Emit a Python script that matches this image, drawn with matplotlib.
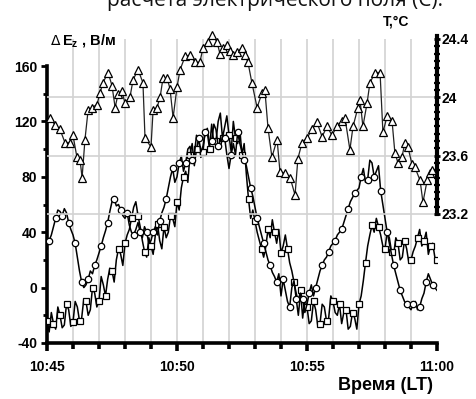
import numpy as np
import matplotlib
matplotlib.use("Agg")
import matplotlib.pyplot as plt
from matplotlib.ticker import MultipleLocator, FixedLocator

plt.rcParams['font.family'] = ['Liberation Sans', 'DejaVu Sans']

# ---- data (time in minutes after 10:45) ----
e_times = np.arange(181) / 12.0  # 5-second sampling

e_circles = [30, 34, 38, 44, 50, 56, 55, 52, 57, 54, 47, 42, 38, 32, 22, 12, 4, 0, 2, 6,
             12, 10, 16, 20, 25, 30, 36, 41, 47, 55, 62, 64, 59, 60, 56, 52, 50, 54, 45, 40,
             38, 42, 47, 40, 36, 44, 40, 32, 34, 40, 44, 38, 48, 54, 58, 64, 72, 80, 86, 76,
             80, 90, 95, 84, 90, 100, 102, 92, 96, 110, 108, 98, 102, 112, 115, 104, 106, 118, 114, 102,
             100, 110, 108, 96, 86, 96, 104, 96, 112, 104, 98, 92, 88, 80, 72, 66, 58, 50, 44, 38,
             32, 26, 20, 16, 11, 8, 4, 10, -6, 6, -2, -10, -14, 0, 5, -8, -20, -4, -8, -18,
             -12, -4, 2, -6, 0, 6, 12, 16, 20, 22, 26, 30, 32, 34, 38, 40, 42, 47, 52, 57,
             62, 65, 68, 70, 72, 80, 86, 76, 78, 92, 90, 80, 84, 88, 70, 60, 50, 40, 32, 24,
             16, 10, 4, -2, -6, -10, -12, -14, -16, -12, -10, -16, -14, -8, -4, 4, 10, 6, 2, 0,
             -2]

e_squares = [-24, -32, -18, -26, -30, -14, -20, -29, -27, -12, -16, -28, -25, -10, -14, -24, -22, -8, -10, -20,
             -16, 0, -4, -14, -10, 8, 2, -6, 6, 14, 12, 4, 20, 28, 24, 16, 32, 38, 42, 50,
             58, 62, 52, 44, 34, 26, 22, 36, 30, 24, 38, 46, 34, 28, 44, 36, 40, 52, 50, 44,
             62, 56, 72, 80, 84, 76, 96, 104, 88, 100, 108, 94, 98, 114, 112, 100, 118, 104, 106, 120,
             126, 108, 116, 124, 110, 98, 120, 108, 104, 114, 96, 104, 82, 64, 50, 56, 48, 40, 34, 28,
             22, 30, 42, 36, 49, 40, 32, 42, 25, 30, 38, 28, 18, 12, 4, -4, -10, -2, -22, -8,
             -14, -26, -24, -10, -16, -28, -26, -12, -14, -24, -22, -6, -10, -18, -20, -12, -26, -18, -16, -30,
             -28, -18, -22, -30, -12, -6, 5, 18, 30, 38, 45, 40, 50, 44, 38, 30, 28, 40, 36, 26,
             24, 36, 32, 20, 22, 34, 28, 18, 20, 26, 30, 36, 42, 30, 34, 40, 24, 30, 32, 22,
             20]

t_times = [0.12, 0.31, 0.50, 0.69, 0.88, 1.00, 1.15, 1.27, 1.35, 1.46, 1.58, 1.73, 1.92, 2.04, 2.15,
           2.35, 2.50, 2.62, 2.73, 2.88, 3.00, 3.19, 3.31, 3.50, 3.69, 3.77, 4.00, 4.08, 4.23, 4.35,
           4.46, 4.62, 4.73, 4.85, 5.00, 5.12, 5.31, 5.50, 5.69, 5.88, 6.00, 6.19, 6.35, 6.54, 6.65,
           6.77, 6.92, 7.04, 7.15, 7.31, 7.50, 7.62, 7.73, 7.88, 8.08, 8.27, 8.38, 8.50, 8.65, 8.85,
           8.96, 9.15, 9.35, 9.54, 9.65, 9.81, 10.00, 10.19, 10.38, 10.58, 10.77, 10.96, 11.15, 11.35,
           11.46, 11.65, 11.77, 11.96, 12.04, 12.15, 12.31, 12.42, 12.62, 12.81, 12.92, 13.08, 13.27,
           13.38, 13.50, 13.65, 13.77, 13.88, 14.04, 14.15, 14.35, 14.46, 14.62, 14.73, 14.81]
temperature = [23.86, 23.81, 23.78, 23.69, 23.69, 23.74, 23.59, 23.57, 23.45, 23.71, 23.91, 23.93,
               23.95, 24.03, 24.10, 24.17, 24.08, 23.93, 24.02, 24.04, 23.96, 24.00, 24.12, 24.19,
               24.10, 23.72, 23.66, 23.91, 23.93, 24.00, 24.13, 24.13, 24.06, 23.86, 24.07, 24.19,
               24.28, 24.29, 24.24, 24.24, 24.34, 24.38, 24.43, 24.38, 24.30, 24.34, 24.36, 24.32,
               24.29, 24.31, 24.34, 24.29, 24.24, 24.10, 23.93, 24.03, 24.05, 23.79, 23.59, 23.71,
               23.49, 23.48, 23.45, 23.33, 23.58, 23.69, 23.72, 23.78, 23.83, 23.73, 23.80, 23.74,
               23.80, 23.84, 23.86, 23.64, 23.80, 23.93, 23.98, 23.80, 23.96, 24.10, 24.17, 24.17,
               23.76, 23.87, 23.84, 23.62, 23.55, 23.59, 23.69, 23.66, 23.54, 23.52, 23.43, 23.28,
               23.43, 23.48, 23.50]

x_major = [0, 5, 10, 15]
x_labels = ['10:45', '10:50', '10:55', '11:00']
e_ticks = [-40, 0, 40, 80, 120, 160]
t_ticks = [23.2, 23.6, 24.0, 24.4]
t_labels = ['23.2', '23.6', '24', '24.4']

W, H = 477, 399
fig = plt.figure(figsize=(W / 100, H / 100), dpi=100)

x0, x1 = 47, 437
ytop, ybot = 39, 343
ax1 = fig.add_axes([x0 / W, 1 - ybot / H, (x1 - x0) / W, (ybot - ytop) / H])
ax1.set_xlim(0, 15)
e_per_px = 200 / (343 - 66)
ax1.set_ylim(-40, 160 + (66 - ytop) * e_per_px)

ax2 = ax1.twinx()
t_per_px = 1.2 / (214 - 39)
ax2.set_ylim(23.2 - (ybot - 214) * t_per_px, 24.4)

for a in (ax1, ax2):
    a.patch.set_visible(False)
    a.spines['top'].set_visible(False)

# grids
for m in range(1, 15):
    ax1.axvline(m, color='#d2d2d2', lw=1.2, zorder=0)
for v in [23.2, 23.6, 24.0]:
    ax2.axhline(v, color='#d2d2d2', lw=1.2, zorder=0)

# series
ax1.plot(e_times, e_squares, color='black', lw=1.1, marker='s', markersize=4.6,
         markerfacecolor='white', markeredgecolor='black', markeredgewidth=0.9,
         markevery=3, zorder=3)
ax1.plot(e_times, e_circles, color='black', lw=1.1, marker='o', markersize=4.6,
         markerfacecolor='white', markeredgecolor='black', markeredgewidth=0.9,
         markevery=(1, 3), zorder=3)
ax2.plot(t_times, temperature, color='#222222', lw=0.9, marker='^', markersize=5.2,
         markerfacecolor='white', markeredgecolor='black', markeredgewidth=0.9,
         zorder=3, clip_on=False)

# spines
ax1.spines['left'].set_bounds(-40, 160)
ax1.spines['left'].set_linewidth(2.6)
ax1.spines['bottom'].set_linewidth(2.6)
ax1.spines['right'].set_visible(False)
ax2.spines['left'].set_visible(False)
ax2.spines['bottom'].set_visible(False)
ax2.spines['right'].set_bounds(23.2, 24.42)
ax2.spines['right'].set_linewidth(3.0)

# ticks
ax1.xaxis.set_major_locator(FixedLocator(x_major))
ax1.set_xticklabels(x_labels)
ax1.xaxis.set_minor_locator(MultipleLocator(1))
ax1.yaxis.set_major_locator(FixedLocator(e_ticks))
ax1.set_yticklabels([str(v) for v in e_ticks])
ax1.yaxis.set_minor_locator(FixedLocator([-20, 20, 60, 100, 140]))
ax1.tick_params(axis='x', which='major', direction='out', length=6, width=2.6,
                labelsize=10, pad=6)
ax1.tick_params(axis='x', which='minor', direction='out', length=4, width=2.6)
ax1.tick_params(axis='y', which='major', direction='out', length=4, width=2.0,
                labelsize=10, pad=3)
ax1.tick_params(axis='y', which='minor', direction='out', length=3, width=2.0)
for lab in ax1.get_xticklabels() + ax1.get_yticklabels():
    lab.set_fontweight('bold')

ax2.yaxis.set_major_locator(FixedLocator(t_ticks))
ax2.set_yticklabels(t_labels)
ax2.yaxis.set_minor_locator(FixedLocator([23.25 + 0.05 * k for k in range(23)]))
ax2.tick_params(axis='y', which='major', direction='inout', length=5, width=2.0,
                labelsize=10, pad=1)
ax2.tick_params(axis='y', which='minor', direction='inout', length=4, width=1.6)
for lab in ax2.get_yticklabels():
    lab.set_fontweight('bold')

# labels
fig.text(50 / W, 1 - 41 / H, r'$\Delta$', fontsize=10, va='center', ha='left')
fig.text(62 / W, 1 - 41 / H, r'E$_{\mathregular{z}}$ , В/м', fontsize=10.5,
         fontweight='bold', va='center', ha='left')
fig.text(383 / W, 1 - 22 / H, 'T,°C', fontsize=10, fontweight='bold', va='center', ha='left')
fig.text(433 / W, 1 - 385 / H, 'Время (LT)', fontsize=13, fontweight='bold',
         va='center', ha='right')
fig.text(275 / W, 1 - 6 / H, 'расчета электрического поля (С).', fontsize=15,
         va='baseline', ha='center', family=['Open Sans', 'DejaVu Sans'], color='#111111')

fig.savefig('out.png', dpi=100)
